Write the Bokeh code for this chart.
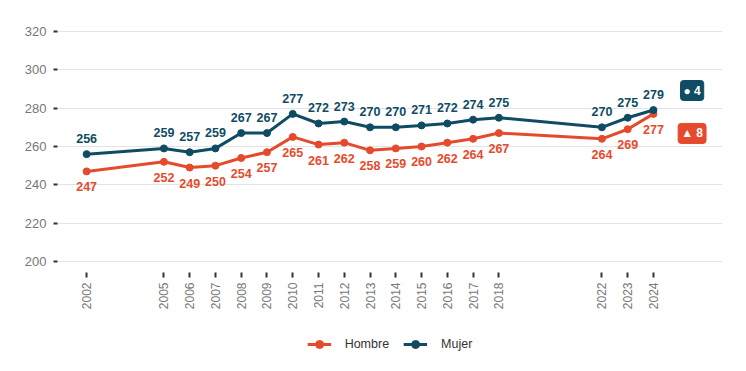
from bokeh.plotting import figure
from bokeh.layouts import column
from bokeh.models import (ColumnDataSource, FixedTicker, Legend, LegendItem, Label, Range1d)
from bokeh.core.properties import value
from bokeh.embed import file_html
from bokeh.resources import INLINE

years = [2002, 2005, 2006, 2007, 2008, 2009, 2010, 2011, 2012, 2013, 2014, 2015, 2016, 2017, 2018, 2022, 2023, 2024]
mujer = [256, 259, 257, 259, 267, 267, 277, 272, 273, 270, 270, 271, 272, 274, 275, 270, 275, 279]
hombre = [247, 252, 249, 250, 254, 257, 265, 261, 262, 258, 259, 260, 262, 264, 267, 264, 269, 277]
y_ticks = [200, 220, 240, 260, 280, 300, 320]
series_names = ["Hombre", "Mujer"]
badge_symbols = ["▲", "●"]

RED = "#E64A2D"
TEAL = "#0F4C63"
FONT = "Liberation Sans"

p = figure(width=740, height=325, output_backend="svg", toolbar_location=None,
           x_range=Range1d(2000.87, 2026.68), y_range=Range1d(194.26, 325.2),
           min_border_left=57, min_border_right=18, min_border_top=21, min_border_bottom=53)
p.outline_line_color = None
p.background_fill_color = "white"
p.border_fill_color = "white"

p.xgrid.grid_line_color = None
p.ygrid.grid_line_color = "#e3e3e3"
p.ygrid.grid_line_width = 1
p.yaxis.ticker = FixedTicker(ticks=y_ticks)
p.xaxis.ticker = FixedTicker(ticks=years)

for ax in (p.xaxis[0], p.yaxis[0]):
    ax.axis_line_color = None
    ax.major_tick_line_color = "#333333"
    ax.major_tick_line_width = 2
    ax.major_tick_in = 0
    ax.minor_tick_line_color = None
    ax.major_label_text_font = FONT
    ax.major_label_text_color = "#777777"
p.yaxis.major_tick_out = 4
p.yaxis.major_label_text_font_size = "13px"
p.yaxis.major_label_standoff = 7
p.xaxis.major_tick_out = 5
p.xaxis.major_label_text_font_size = "12px"
p.xaxis.major_label_orientation = 1.5708
p.xaxis.major_label_standoff = 5

src = ColumnDataSource(dict(x=years, m=mujer, h=hombre,
                            ml=[str(v) for v in mujer], hl=[str(v) for v in hombre]))

p.line("x", "h", source=src, line_color=RED, line_width=3)
p.scatter("x", "h", source=src, size=7, fill_color=RED, line_color=RED)
p.line("x", "m", source=src, line_color=TEAL, line_width=3)
p.scatter("x", "m", source=src, size=7, fill_color=TEAL, line_color=TEAL)

p.text("x", "m", text="ml", source=src, y_offset=-11, text_align="center", text_baseline="bottom",
       text_font=value(FONT), text_font_style="bold", text_font_size="12.5px", text_color=TEAL)
p.text("x", "h", text="hl", source=src, y_offset=11, text_align="center", text_baseline="top",
       text_font=value(FONT), text_font_style="bold", text_font_size="12.5px", text_color=RED)

dm = mujer[-1] - mujer[-2]
dh = hombre[-1] - hombre[-2]
for txt, yv, col in [(f"{badge_symbols[1]} {dm}", 289.2, TEAL), (f"{badge_symbols[0]} {dh}", 266.8, RED)]:
    p.add_layout(Label(x=2025.5, y=yv, text=txt, text_align="center", text_baseline="middle",
                       text_color="white", text_font=FONT, text_font_style="bold", text_font_size="12px",
                       background_fill_color=col, border_line_color=col,
                       padding=3, border_radius=3))

# legend strip below the chart
q = figure(width=740, height=38, output_backend="svg", toolbar_location=None,
           x_range=Range1d(0, 1), y_range=Range1d(0, 1),
           min_border_left=57, min_border_right=18, min_border_top=0, min_border_bottom=0,
           x_axis_location=None, y_axis_location=None)
q.outline_line_color = None
q.grid.grid_line_color = None
qh = [q.line("x", "h", source=src, line_color=RED, line_width=3),
      q.scatter("x", "h", source=src, size=7, fill_color=RED, line_color=RED)]
qm = [q.line("x", "m", source=src, line_color=TEAL, line_width=3),
      q.scatter("x", "m", source=src, size=7, fill_color=TEAL, line_color=TEAL)]
legend = Legend(items=[LegendItem(label=series_names[0], renderers=qh),
                       LegendItem(label=series_names[1], renderers=qm)],
                orientation="horizontal", location="center",
                label_text_font=FONT, label_text_font_size="12.5px", label_text_color="#333333",
                border_line_color=None, background_fill_alpha=0, glyph_width=24,
                label_standoff=14, spacing=14)
q.add_layout(legend)

open("out.html", "w").write(file_html(column(p, q), INLINE))
